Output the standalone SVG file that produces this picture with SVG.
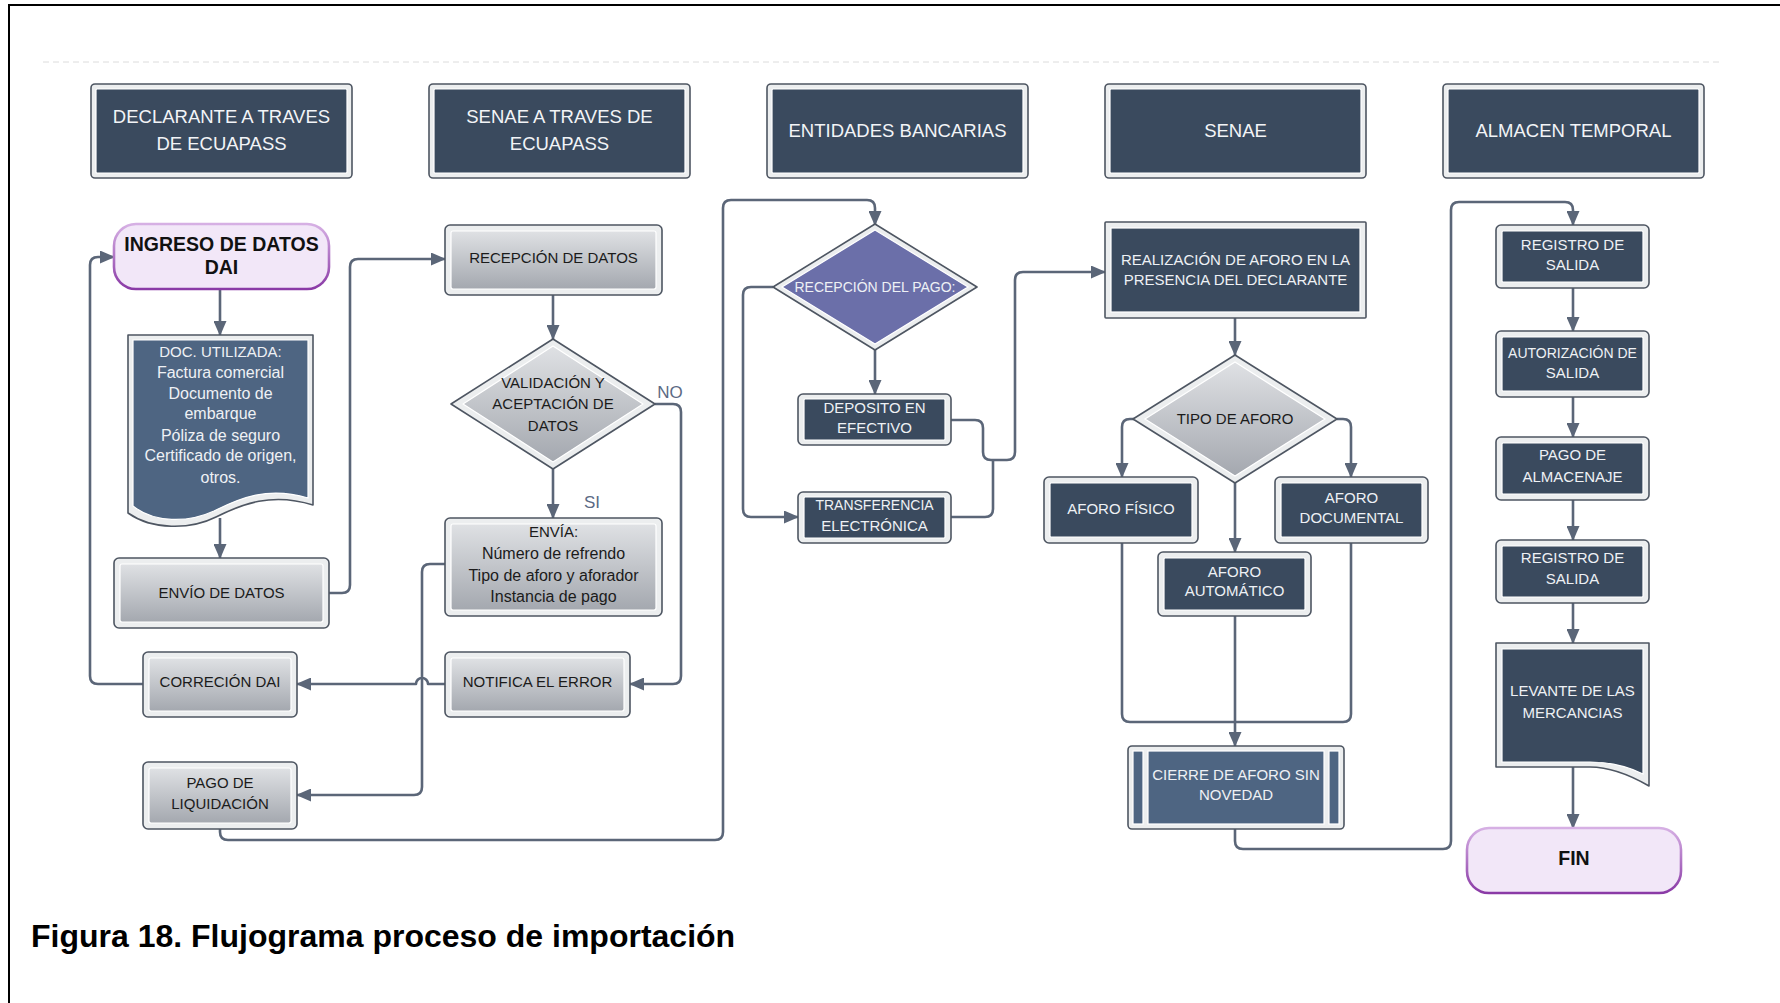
<svg xmlns="http://www.w3.org/2000/svg" width="1780" height="1003" viewBox="0 0 1780 1003">
<style>
text{font-family:"Liberation Sans",Arial,sans-serif;text-anchor:middle}
.h{font-size:18.5px;fill:#f2f4f7}
.w{font-size:15px;fill:#eef1f5}
.k{font-size:15px;fill:#1b1b1b}
.lc{font-size:16px}
.sm{font-size:14px}
.b{font-size:19.5px;font-weight:bold;fill:#111}
.frame{fill:#eceeef;stroke:#4e5662;stroke-width:1.6;stroke-linejoin:round}
.dk{fill:#3a4a5e;stroke:#fff;stroke-width:1.2}
.sl{fill:#4e6582;stroke:#fff;stroke-width:1.2}
.gr{fill:url(#gGray);stroke:#fff;stroke-width:1.2}
.pu{fill:#6b6fa9;stroke:#fff;stroke-width:1.2}
.pill{fill:#f2e7f8;stroke:url(#gPurp);stroke-width:2.6}
.con{fill:none;stroke:#5b6678;stroke-width:2.6;stroke-linejoin:round}
.arr{marker-end:url(#ah)}
.lbl{font-size:17px;fill:#5b6a84}
.cap{font-size:32px;font-weight:bold;fill:#000;text-anchor:start}
</style>
<defs>
<linearGradient id="gGray" x1="0" y1="0" x2="0" y2="1"><stop offset="0" stop-color="#dfe1e4"/><stop offset="1" stop-color="#a4a8af"/></linearGradient>
<linearGradient id="gPurp" x1="0" y1="0" x2="0" y2="1"><stop offset="0" stop-color="#d6b0e4"/><stop offset="1" stop-color="#8a3aa6"/></linearGradient>
<marker id="ah" viewBox="0 0 15 13" refX="14" refY="6.5" markerWidth="15" markerHeight="13" markerUnits="userSpaceOnUse" orient="auto"><path d="M0,0 L15,6.5 L0,13 z" fill="#5b6678"/></marker>
</defs>
<rect width="1780" height="1003" fill="#fff"/>
<path d="M9,1003 V5 H1780" fill="none" stroke="#000" stroke-width="2"/>
<line x1="43" y1="62" x2="1723" y2="62" stroke="#dcdcdc" stroke-width="1" stroke-dasharray="6,4"/>

<g id="connectors">
<path class="con arr" d="M220,289 V335"/>
<path class="con arr" d="M220,518 V558"/>
<path class="con arr" d="M329,593 H342 Q350,593 350,585 V267 Q350,259 358,259 H445"/>
<path class="con arr" d="M553,295 V339"/>
<path class="con arr" d="M655,404 H673 Q681,404 681,412 V676 Q681,684 673,684 H630"/>
<path class="con arr" d="M553,469 V518"/>
<path class="con arr" d="M445,684 H428 A6,6 0 0 0 416,684 H297"/>
<path class="con arr" d="M143,684 H98 Q90,684 90,676 V265 Q90,257 98,257 H114"/>
<path class="con arr" d="M445,564 H430 Q422,564 422,572 V787 Q422,795 414,795 H297"/>
<path class="con arr" d="M220,829 V832 Q220,840 228,840 H715 Q723,840 723,832 V208 Q723,200 731,200 H867 Q875,200 875,208 V225"/>
<path class="con arr" d="M875,350 V394"/>
<path class="con arr" d="M773,287 H751 Q743,287 743,295 V509 Q743,517 751,517 H798"/>
<path class="con arr" d="M951,420 H975 Q983,420 983,428 V452 Q983,460 991,460 H1007 Q1015,460 1015,452 V280 Q1015,272 1023,272 H1105"/>
<path class="con" d="M951,517 H985 Q993,517 993,509 V460"/>
<path class="con arr" d="M1235,318 V355"/>
<path class="con arr" d="M1135,419 H1130 Q1122,419 1122,427 V477"/>
<path class="con arr" d="M1337,419 H1343 Q1351,419 1351,427 V477"/>
<path class="con arr" d="M1235,483 V552"/>
<path class="con" d="M1122,543 V714 Q1122,722 1130,722 H1235"/>
<path class="con" d="M1351,543 V714 Q1351,722 1343,722 H1235"/>
<path class="con arr" d="M1235,616 V746"/>
<path class="con arr" d="M1235,829 V841 Q1235,849 1243,849 H1443 Q1451,849 1451,841 V210 Q1451,202 1459,202 H1565 Q1573,202 1573,210 V225"/>
<path class="con arr" d="M1573,288 V331"/>
<path class="con arr" d="M1573,397 V437"/>
<path class="con arr" d="M1573,500 V540"/>
<path class="con arr" d="M1573,603 V643"/>
<path class="con arr" d="M1573,767 V828"/>
</g>

<g id="h1"><rect class="frame" x="91" y="84" width="261" height="94" rx="4"/><rect class="dk" x="96" y="89" width="251" height="84" rx="1"/><text class="h" x="221.5" y="123">DECLARANTE A TRAVES</text><text class="h" x="221.5" y="150">DE ECUAPASS</text></g>
<g id="h2"><rect class="frame" x="429" y="84" width="261" height="94" rx="4"/><rect class="dk" x="434" y="89" width="251" height="84" rx="1"/><text class="h" x="559.5" y="123">SENAE A TRAVES DE</text><text class="h" x="559.5" y="150">ECUAPASS</text></g>
<g id="h3"><rect class="frame" x="767" y="84" width="261" height="94" rx="4"/><rect class="dk" x="772" y="89" width="251" height="84" rx="1"/><text class="h" x="897.5" y="137">ENTIDADES BANCARIAS</text></g>
<g id="h4"><rect class="frame" x="1105" y="84" width="261" height="94" rx="4"/><rect class="dk" x="1110" y="89" width="251" height="84" rx="1"/><text class="h" x="1235.5" y="137">SENAE</text></g>
<g id="h5"><rect class="frame" x="1443" y="84" width="261" height="94" rx="4"/><rect class="dk" x="1448" y="89" width="251" height="84" rx="1"/><text class="h" x="1573.5" y="137">ALMACEN TEMPORAL</text></g>

<g id="n-ingreso"><rect class="pill" x="114" y="224" width="215" height="65" rx="22"/><text class="b" x="221.5" y="251">INGRESO DE DATOS</text><text class="b" x="221.5" y="274">DAI</text></g>

<g id="n-doc"><path class="frame" d="M128,335 H313 V505 C272,492 242,504 216,517 C190,530 152,530 128,513 Z"/><path class="sl" d="M133,340 H308 V498 C268,486 240,498 214,511 C188,523 154,523 133,506 Z"/>
<text class="w" x="220.5" y="357">DOC. UTILIZADA:</text>
<text class="w lc" x="220.5" y="378">Factura comercial</text>
<text class="w lc" x="220.5" y="399">Documento de</text>
<text class="w lc" x="220.5" y="419">embarque</text>
<text class="w lc" x="220.5" y="441">Póliza de seguro</text>
<text class="w lc" x="220.5" y="461">Certificado de origen,</text>
<text class="w lc" x="220.5" y="483">otros.</text></g>

<g id="n-envio"><rect class="frame" x="114" y="558" width="215" height="70" rx="5"/><rect class="gr" x="120" y="564" width="203" height="58" rx="2"/><text class="k" x="221.5" y="598">ENVÍO DE DATOS</text></g>
<g id="n-correcion"><rect class="frame" x="143" y="652" width="154" height="65" rx="5"/><rect class="gr" x="149" y="658" width="142" height="53" rx="2"/><text class="k" x="220" y="687">CORRECIÓN DAI</text></g>
<g id="n-pago-liq"><rect class="frame" x="143" y="762" width="154" height="67" rx="5"/><rect class="gr" x="149" y="768" width="142" height="55" rx="2"/><text class="k" x="220" y="788">PAGO DE</text><text class="k" x="220" y="809">LIQUIDACIÓN</text></g>

<g id="n-recepcion"><rect class="frame" x="445" y="225" width="217" height="70" rx="5"/><rect class="gr" x="451" y="231" width="205" height="58" rx="2"/><text class="k" x="553.5" y="263">RECEPCIÓN DE DATOS</text></g>
<g id="n-validacion"><polygon class="frame" points="553,339 655,404 553,469 451,404"/><polygon class="gr" points="553,346 643,404 553,462 463,404" stroke-linejoin="round"/><text class="k" x="553" y="388">VALIDACIÓN Y</text><text class="k" x="553" y="409">ACEPTACIÓN DE</text><text class="k" x="553" y="431">DATOS</text></g>
<text class="lbl" x="670" y="398">NO</text>
<text class="lbl" x="592" y="508">SI</text>
<g id="n-envia"><rect class="frame" x="445" y="518" width="217" height="98" rx="5"/><rect class="gr" x="451" y="524" width="205" height="86" rx="2"/><text class="k" x="553.5" y="537">ENVÍA:</text><text class="k lc" x="553.5" y="559">Número de refrendo</text><text class="k lc" x="553.5" y="581">Tipo de aforo y aforador</text><text class="k lc" x="553.5" y="602">Instancia de pago</text></g>
<g id="n-notifica"><rect class="frame" x="445" y="652" width="185" height="65" rx="5"/><rect class="gr" x="451" y="658" width="173" height="53" rx="2"/><text class="k" x="537.5" y="687">NOTIFICA EL ERROR</text></g>

<g id="n-recepcion-pago"><polygon class="frame" points="875,224 977,287 875,350 773,287"/><polygon class="pu" points="875,230 968,287 875,344 782,287"/><text class="w sm" x="875" y="292">RECEPCIÓN DEL PAGO:</text></g>
<g id="n-deposito"><rect class="frame" x="798" y="394" width="153" height="51" rx="5"/><rect class="dk" x="804" y="399" width="141" height="41" rx="1"/><text class="w" x="874.5" y="413">DEPOSITO EN</text><text class="w" x="874.5" y="433">EFECTIVO</text></g>
<g id="n-transferencia"><rect class="frame" x="798" y="492" width="153" height="51" rx="5"/><rect class="dk" x="804" y="497" width="141" height="41" rx="1"/><text class="w sm" x="874.5" y="510">TRANSFERENCIA</text><text class="w" x="874.5" y="531">ELECTRÓNICA</text></g>

<g id="n-realizacion"><rect class="frame" x="1105" y="222" width="261" height="96" rx="1"/><rect class="dk" x="1111" y="228" width="249" height="84"/><text class="w" x="1235.5" y="265">REALIZACIÓN DE AFORO EN LA</text><text class="w" x="1235.5" y="285">PRESENCIA DEL DECLARANTE</text></g>
<g id="n-tipo"><polygon class="frame" points="1235,355 1337,419 1235,483 1133,419"/><polygon class="gr" points="1235,362 1325,419 1235,476 1145,419"/><text class="k" x="1235" y="424">TIPO DE AFORO</text></g>
<g id="n-fisico"><rect class="frame" x="1044" y="477" width="154" height="66" rx="5"/><rect class="dk" x="1050" y="483" width="142" height="54" rx="1"/><text class="w" x="1121" y="514">AFORO FÍSICO</text></g>
<g id="n-documental"><rect class="frame" x="1275" y="477" width="153" height="66" rx="5"/><rect class="dk" x="1281" y="483" width="141" height="54" rx="1"/><text class="w" x="1351.5" y="503">AFORO</text><text class="w" x="1351.5" y="523">DOCUMENTAL</text></g>
<g id="n-automatico"><rect class="frame" x="1158" y="552" width="153" height="64" rx="5"/><rect class="dk" x="1164" y="558" width="141" height="52" rx="1"/><text class="w" x="1234.5" y="577">AFORO</text><text class="w" x="1234.5" y="596">AUTOMÁTICO</text></g>
<g id="n-cierre"><rect class="frame" x="1128" y="746" width="216" height="83" rx="4"/><rect class="sl" x="1133" y="751" width="10" height="73"/><rect class="sl" x="1148" y="751" width="176" height="73"/><rect class="sl" x="1329" y="751" width="10" height="73"/><text class="w" x="1236" y="780">CIERRE DE AFORO SIN</text><text class="w" x="1236" y="800">NOVEDAD</text></g>

<g id="n-registro1"><rect class="frame" x="1496" y="225" width="153" height="63" rx="5"/><rect class="dk" x="1502" y="231" width="141" height="51" rx="1"/><text class="w" x="1572.5" y="250">REGISTRO DE</text><text class="w" x="1572.5" y="270">SALIDA</text></g>
<g id="n-autorizacion"><rect class="frame" x="1496" y="331" width="153" height="66" rx="5"/><rect class="dk" x="1502" y="337" width="141" height="54" rx="1"/><text class="w sm" x="1572.5" y="358">AUTORIZACIÓN DE</text><text class="w" x="1572.5" y="378">SALIDA</text></g>
<g id="n-almacenaje"><rect class="frame" x="1496" y="437" width="153" height="63" rx="5"/><rect class="dk" x="1502" y="443" width="141" height="51" rx="1"/><text class="w" x="1572.5" y="460">PAGO DE</text><text class="w" x="1572.5" y="482">ALMACENAJE</text></g>
<g id="n-registro2"><rect class="frame" x="1496" y="540" width="153" height="63" rx="5"/><rect class="dk" x="1502" y="546" width="141" height="51" rx="1"/><text class="w" x="1572.5" y="563">REGISTRO DE</text><text class="w" x="1572.5" y="584">SALIDA</text></g>
<g id="n-levante"><path class="frame" d="M1496,643 H1649 V786 C1630,775 1610,767 1590,767 H1496 Z"/><path class="dk" d="M1502,649 H1643 V774 C1627,766 1609,762 1590,762 H1502 Z"/><text class="w" x="1572.5" y="696">LEVANTE DE LAS</text><text class="w" x="1572.5" y="718">MERCANCIAS</text></g>
<g id="n-fin"><rect class="pill" x="1467" y="828" width="214" height="65" rx="22"/><text class="b" x="1574" y="865">FIN</text></g>

<text class="cap" x="31" y="947">Figura 18. Flujograma proceso de importación</text>
</svg>
